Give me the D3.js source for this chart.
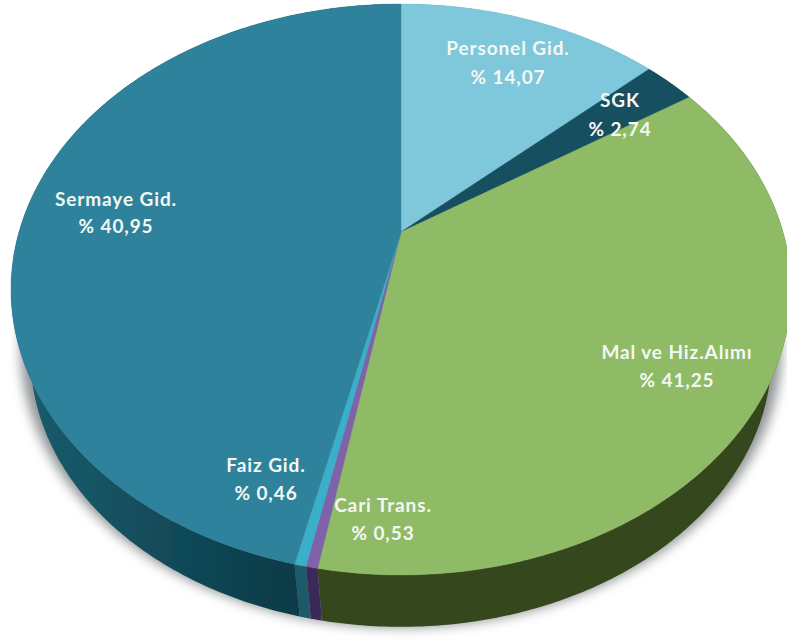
<!DOCTYPE html>
<html><head><meta charset="utf-8">
<script src="https://cdn.jsdelivr.net/npm/d3@7"></script>
<style>html,body{margin:0;padding:0;background:#fff;overflow:hidden}svg{display:block}</style>
</head><body><svg id="c" width="787" height="641"></svg>
<script>
const categories = ["Personel Gid.","SGK","Mal ve Hiz.Alımı","Cari Trans.","Faiz Gid.","Sermaye Gid."];
const valueLabels = ["% 14,07","% 2,74","% 41,25","% 0,53","% 0,46","% 40,95"];
// Slice sizes as measured from the drawn picture (the printed labels do not match the drawn angles)
const drawnShares = [13.2,2.6,37.0,0.4,0.4,46.4];
const topColors = ["#7fc7da","#19505f","#8fbb66","#7f62a8","#3aaec9","#2f829c"];
const sideColors = ["#5a96a5","#0f3c48","#36471f","#3b2a58","#1b5a6a","url(#sideS)"];

const layout = {ax:401, ay:232, rx:382, ry:273.9, k:-0.2014, depth:69, shrink:0.95};
const labelAt = [[508,49,78],[620,101,130],[677,353,381],[383,506,534],[266,466,494],[116,200,227]];

const svg = d3.select("#c");
const defs = svg.append("defs");
defs.append("filter").attr("id","sh").attr("x","-10%").attr("y","-10%").attr("width","120%").attr("height","120%")
  .append("feGaussianBlur").attr("stdDeviation",6);
defs.append("filter").attr("id","soft").append("feGaussianBlur").attr("stdDeviation",0.45);
const gr = defs.append("linearGradient").attr("id","sideS").attr("gradientUnits","userSpaceOnUse")
  .attr("x1",30).attr("x2",300).attr("y1",0).attr("y2",0);
gr.append("stop").attr("offset",0).attr("stop-color","#1a5c6c");
gr.append("stop").attr("offset",1).attr("stop-color","#0a3a47");

function project(theta, r=1, dy=0, s=1){
  const u=Math.sin(theta)*r, v=-Math.cos(theta)*r, d=1+layout.k*v;
  return [layout.ax+s*layout.rx*u/d, layout.ay+dy+s*layout.ry*v/d];
}
const pie = d3.pie().sort(null).value(d=>d);
const arcs = pie(drawnShares);
const line = d3.line();
function samples(a,b){const n=Math.max(3,Math.ceil((b-a)/0.01));return d3.range(n+1).map(i=>a+(b-a)*i/n);}

const tau=2*Math.PI;
// shadow
svg.append("path").attr("d",line(samples(0,tau).map(t=>project(t,1,layout.depth-8,layout.shrink+0.025)))+"Z")
  .attr("fill","#5f6568").attr("opacity",0.7).attr("filter","url(#sh)");

const g = svg.append("g").attr("filter","url(#soft)");
// sides
arcs.forEach((a,i)=>{
  const ts=samples(a.startAngle,a.endAngle);
  const pts=ts.map(t=>project(t)).concat(ts.slice().reverse().map(t=>project(t,1,layout.depth,layout.shrink)));
  g.append("path").attr("d",line(pts)+"Z").attr("fill",sideColors[i]);
});
// tops
arcs.forEach((a,i)=>{
  const pts=[project(0,0)].concat(samples(a.startAngle,a.endAngle).map(t=>project(t)));
  g.append("path").attr("d",line(pts)+"Z").attr("fill",topColors[i]).attr("stroke",topColors[i]).attr("stroke-width",0.4);
});
// labels
const tg=svg.append("g").attr("font-family","Lato, 'Open Sans', sans-serif").attr("font-weight",700)
  .attr("font-size",19).attr("letter-spacing",0.9).attr("fill","#f4f8f4").attr("text-anchor","middle");
categories.forEach((c,i)=>{
  const [x,y1,y2]=labelAt[i];
  tg.append("text").attr("x",x).attr("y",y1+6).text(c);
  tg.append("text").attr("x",x).attr("y",y2+6).text(valueLabels[i]);
});
</script></body></html>
